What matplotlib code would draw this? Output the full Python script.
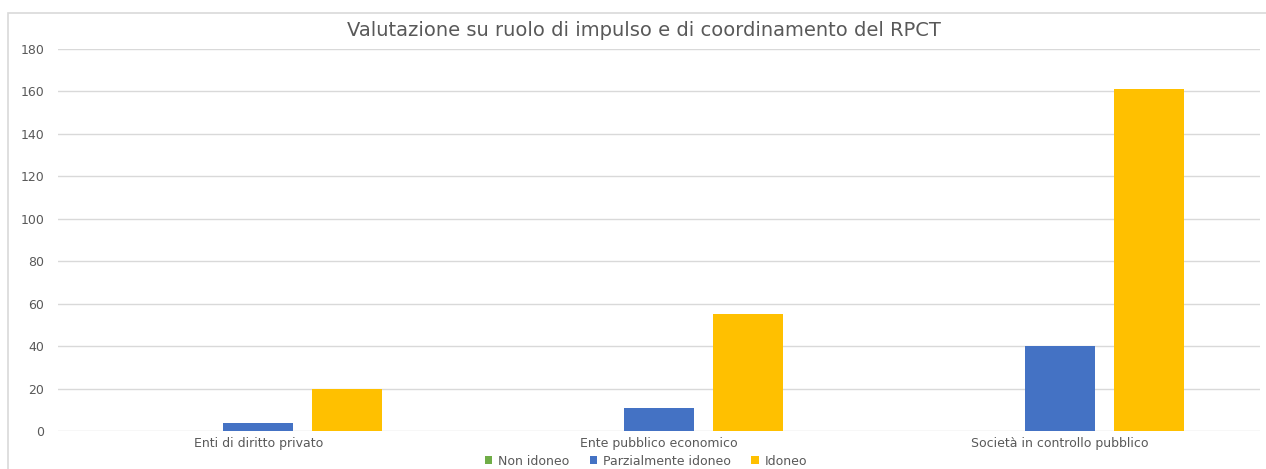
import matplotlib
matplotlib.use("Agg")
import matplotlib.pyplot as plt
import numpy as np
from matplotlib.patches import Rectangle

categories = ["Enti di diritto privato", "Ente pubblico economico", "Società in controllo pubblico"]
series_names = ["Non idoneo", "Parzialmente idoneo", "Idoneo"]
non_idoneo = [0, 0, 0]
parzialmente = [4, 11, 40]
idoneo = [20, 55, 161]
yticks = [0, 20, 40, 60, 80, 100, 120, 140, 160, 180]
title = "Valutazione su ruolo di impulso e di coordinamento del RPCT"

colors = ["#70AD47", "#4472C4", "#FFC000"]
W, H = 1266, 469
plt.rcParams['font.family'] = ['DejaVu Sans']
fig = plt.figure(figsize=(W / 100, H / 100), dpi=100)

# chart border (left and top visible, rest cut off)
fig.patches.append(Rectangle((8 / W, -0.1), 1.2, 1.1 - 13 / H, transform=fig.transFigure,
                             fill=False, edgecolor="#D9D9D9", linewidth=1.2))

ax = fig.add_axes([58 / W, 1 - 431 / H, (1260 - 58) / W, (431 - 49) / H])
x = np.arange(len(categories))
bw = 0.175
off = 0.222
for i, (vals, name) in enumerate(zip([non_idoneo, parzialmente, idoneo], series_names)):
    ax.bar(x + (i - 1) * off, vals, width=bw, color=colors[i], label=name, zorder=3)

ax.set_xlim(-0.5, 2.5)
ax.set_ylim(0, 180)
ax.set_yticks(yticks)
ax.set_yticklabels([str(t) for t in yticks])
ax.set_xticks(x)
ax.set_xticklabels(categories)
ax.grid(axis="y", color="#D9D9D9", linewidth=1, zorder=0)
for s in ax.spines.values():
    s.set_visible(False)
ax.tick_params(axis="both", length=0, colors="#595959", labelsize=9)
ax.tick_params(axis="y", pad=10)
ax.tick_params(axis="x", pad=4)

fig.text(644 / W, 1 - 30 / H, title, ha="center", va="center", fontsize=14, color="#595959")

leg = fig.legend(loc="center", bbox_to_anchor=(646 / W, 1 - 461 / H), ncol=3, frameon=False,
                 fontsize=9, handlelength=0.6, handleheight=0.6, handletextpad=0.5,
                 columnspacing=1.6, borderaxespad=0)
for t in leg.get_texts():
    t.set_color("#595959")

fig.savefig("out.png", dpi=100)
